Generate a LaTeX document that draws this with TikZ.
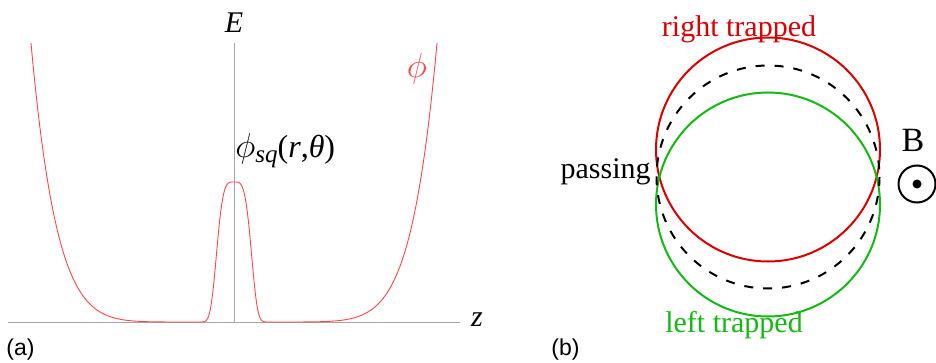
\documentclass[tikz,border=0pt]{standalone}
\usepackage{fontspec}
\setmainfont{Liberation Serif}
\setsansfont{Liberation Sans}
\usepackage{tikz}
\usetikzlibrary{positioning, calc}
\definecolor{curvered}{RGB}{255,70,70}
\definecolor{trapred}{RGB}{220,0,0}
\definecolor{trapgreen}{RGB}{20,185,20}
\definecolor{axisgray}{RGB}{165,165,165}
\tikzstyle{axis} = [draw=axisgray, line width=0.5pt]
\tikzstyle{potential} = [draw=curvered, line width=0.45pt]
\tikzstyle{orbit} = [line width=1pt]
\tikzstyle{serif} = [font=\fontsize{15}{18}\selectfont, inner sep=0pt]
\tikzstyle{panel} = [font=\sffamily\fontsize{11.5}{14}\selectfont, inner sep=0pt, anchor=west]

\begin{document}
\begin{tikzpicture}[x=0.5pt, y=-0.5pt]
        \useasboundingbox (0,0) rectangle (936,363);

        % (a) potential along z
        \coordinate (origin) at (234,322);
        \coordinate (zend) at (460,322);
        \coordinate (zstart) at (8,322);
        \coordinate (etop) at (234,43);
        \draw [axis] (zstart) -- (zend);
        \draw [axis] (origin) -- (etop);
        \draw [potential] plot[domain=-203:203, samples=401, smooth]
            ({234+\x}, {322 - 279*(abs(\x)/203)^8 - 140*exp(-min((\x/19)^4, 60))});
        \node (elabel) [serif] at (234,23) {\textit{E}};
        \node (zlabel) [serif] at (477,320) {\textit{z}};
        \node (philabel) [serif, text=curvered, font=\fontsize{17}{20}\selectfont] at (417,69) {$\phi$};
        \node (sqlabel) [serif, anchor=west, font=\fontsize{16}{19}\selectfont] at (235,151)
            {$\phi$\raisebox{-2.5pt}{\fontsize{12.5}{14}\selectfont\textit{sq}}(\textit{r},\textit{θ})};
        \node (alabel) [panel] at (6,350) {(a)};

        % (b) orbits
        \coordinate (rc) at (768,149.5);
        \coordinate (gc) at (768,204.5);
        \coordinate (pc) at (768,177);
        \draw [orbit, trapred] (rc) circle (112);
        \draw [orbit, trapgreen] (gc) circle (112);
        \draw [orbit, black, dash pattern=on 4.5pt off 5pt] (pc) circle (111.5);
        \node (rtlabel) [serif, text=trapred] at (739,29) {right trapped};
        \node (ltlabel) [serif, text=trapgreen] at (734,325) {left trapped};
        \node (passlabel) [serif, anchor=east] at (651,172) {passing};
        \node (blabel) [serif, font=\fontsize{17}{20}\selectfont] at (913,140) {B};
        \node (bfield) [circle, draw, line width=1pt, minimum size=18.5pt, inner sep=0pt] at (917,184) {};
        \fill (bfield.center) circle (4.5);
        \node (blabel2) [panel] at (551,350) {(b)};
    \end{tikzpicture}
\end{document}
